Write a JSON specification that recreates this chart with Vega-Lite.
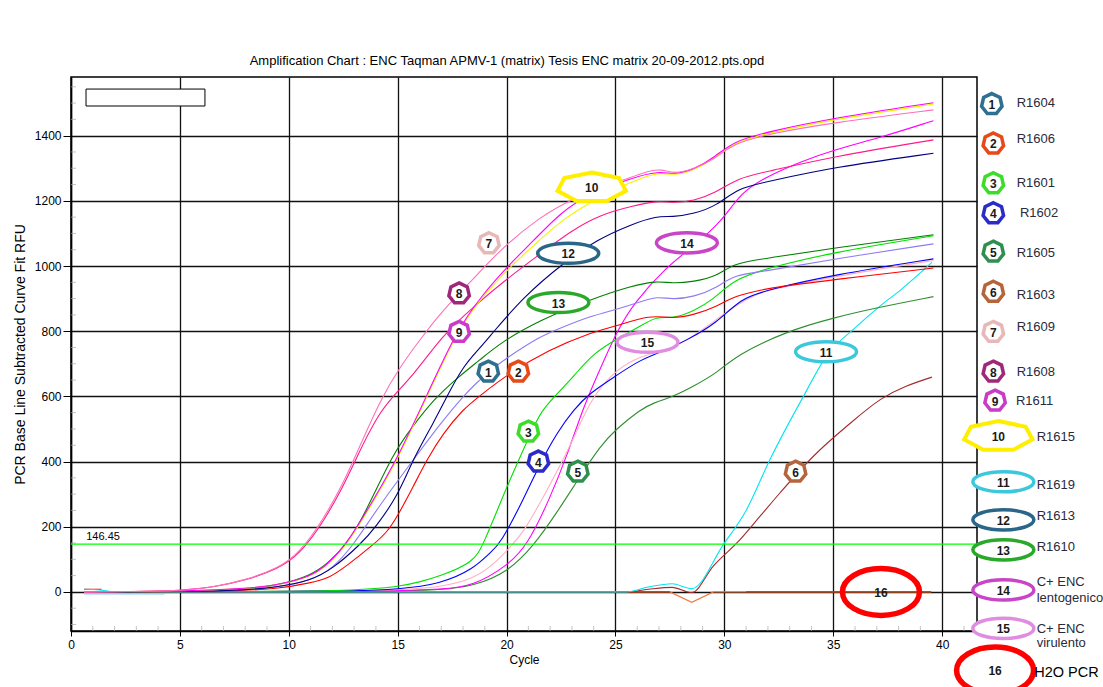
{
"$schema":"https://vega.github.io/schema/vega-lite/v6.json",
"width":906,"height":554,
"autosize":{"type":"none"},
"padding":{"left":71,"top":77,"right":126,"bottom":56},
"background":"white",
"config":{"view":{"stroke":"black","strokeWidth":1.5},"font":"Liberation Sans"},
"title":{"text":"Amplification Chart : ENC Taqman APMV-1 (matrix) Tesis ENC matrix 20-09-2012.pts.opd","fontSize":13,"fontWeight":"normal","font":"Liberation Sans","color":"black","offset":9,"dx":-17},
"datasets":{
"curves":[
{"s":"LB","x":0.6,"y":-6},{"s":"LB","x":4.3,"y":-6},
{"s":"RB","x":0.6,"y":8},{"s":"RB","x":1.4,"y":8},
{"s":"OR","x":0.6,"y":0},{"s":"OR","x":27.5,"y":0},{"s":"OR","x":28.5,"y":-32},{"s":"OR","x":29.5,"y":0},{"s":"OR","x":39.5,"y":0},
{"s":"DB1","x":25,"y":0},{"s":"DB1","x":27.5,"y":0},
{"s":"DB2","x":31,"y":0},{"s":"DB2","x":39.5,"y":0},
{"s":"BR","x":0.6,"y":0},{"s":"BR","x":25.5,"y":0},{"s":"BR","x":26.5,"y":8},{"s":"BR","x":27.6,"y":14},{"s":"BR","x":28.5,"y":-2},{"s":"BR","x":29.5,"y":80},{"s":"BR","x":30.73,"y":161},{"s":"BR","x":31.65,"y":233},{"s":"BR","x":32.57,"y":305},{"s":"BR","x":34.1,"y":417},{"s":"BR","x":35.63,"y":509},{"s":"BR","x":37.16,"y":590},{"s":"BR","x":39.53,"y":659},
{"s":"CY","x":0.6,"y":8},{"s":"CY","x":1.3,"y":6},{"s":"CY","x":2,"y":0},{"s":"CY","x":25.5,"y":0},{"s":"CY","x":26.5,"y":15},{"s":"CY","x":27.6,"y":25},{"s":"CY","x":28.5,"y":10},{"s":"CY","x":29.96,"y":146},{"s":"CY","x":31,"y":250},{"s":"CY","x":32.1,"y":407},{"s":"CY","x":33.63,"y":600},{"s":"CY","x":34.7,"y":725},{"s":"CY","x":36,"y":810},{"s":"CY","x":37.2,"y":880},{"s":"CY","x":38.1,"y":927},{"s":"CY","x":39.53,"y":1011},
{"s":"SG","x":0.6,"y":0},{"s":"SG","x":10,"y":1},{"s":"SG","x":15,"y":3},{"s":"SG","x":16.96,"y":6},{"s":"SG","x":18.48,"y":18},{"s":"SG","x":20.02,"y":59},{"s":"SG","x":21.24,"y":141},{"s":"SG","x":22.31,"y":243},{"s":"SG","x":23.38,"y":355},{"s":"SG","x":24.3,"y":447},{"s":"SG","x":25,"y":498},{"s":"SG","x":26.14,"y":560},{"s":"SG","x":26.75,"y":580},{"s":"SG","x":27.67,"y":600},{"s":"SG","x":28.58,"y":631},{"s":"SG","x":29.66,"y":672},{"s":"SG","x":30.6,"y":728},{"s":"SG","x":32.87,"y":800},{"s":"SG","x":35,"y":841},{"s":"SG","x":37,"y":872},{"s":"SG","x":39.6,"y":906},
{"s":"MG","x":0.6,"y":0},{"s":"MG","x":10,"y":1},{"s":"MG","x":15,"y":3},{"s":"MG","x":17,"y":8},{"s":"MG","x":18.48,"y":18},{"s":"MG","x":20.02,"y":80},{"s":"MG","x":20.94,"y":141},{"s":"MG","x":21.97,"y":284},{"s":"MG","x":22.77,"y":417},{"s":"MG","x":23.54,"y":570},{"s":"MG","x":24.3,"y":685},{"s":"MG","x":25.07,"y":800},{"s":"MG","x":25.83,"y":885},{"s":"MG","x":27.36,"y":999},{"s":"MG","x":28.58,"y":1060},{"s":"MG","x":29.96,"y":1142},{"s":"MG","x":30.73,"y":1224},{"s":"MG","x":31.96,"y":1275},{"s":"MG","x":33.5,"y":1320},{"s":"MG","x":35,"y":1356},{"s":"MG","x":37.3,"y":1397},{"s":"MG","x":39.6,"y":1446},
{"s":"LP","x":0.6,"y":0},{"s":"LP","x":10,"y":1},{"s":"LP","x":15,"y":5},{"s":"LP","x":17,"y":15},{"s":"LP","x":18.5,"y":40},{"s":"LP","x":19.5,"y":90},{"s":"LP","x":20.2,"y":140},{"s":"LP","x":20.78,"y":182},{"s":"LP","x":21.97,"y":325},{"s":"LP","x":23.08,"y":468},{"s":"LP","x":23.84,"y":590},{"s":"LP","x":25,"y":682},{"s":"LP","x":26.14,"y":723},{"s":"LP","x":27.4,"y":745},{"s":"LP","x":28.1,"y":764},{"s":"LP","x":29.66,"y":835},{"s":"LP","x":30.42,"y":876},{"s":"LP","x":31.6,"y":917},{"s":"LP","x":32,"y":925},{"s":"LP","x":35,"y":968},{"s":"LP","x":39.6,"y":1017},
{"s":"BL","x":0.6,"y":0},{"s":"BL","x":10,"y":1},{"s":"BL","x":13,"y":3},{"s":"BL","x":15,"y":8},{"s":"BL","x":16.96,"y":24},{"s":"BL","x":18.48,"y":70},{"s":"BL","x":19.25,"y":121},{"s":"BL","x":19.7,"y":146},{"s":"BL","x":20.78,"y":284},{"s":"BL","x":21.55,"y":396},{"s":"BL","x":22.31,"y":488},{"s":"BL","x":23.08,"y":560},{"s":"BL","x":23.84,"y":611},{"s":"BL","x":25,"y":662},{"s":"BL","x":26.14,"y":713},{"s":"BL","x":27.4,"y":744},{"s":"BL","x":28.2,"y":770},{"s":"BL","x":29.66,"y":825},{"s":"BL","x":30.73,"y":900},{"s":"BL","x":32,"y":927},{"s":"BL","x":35,"y":973},{"s":"BL","x":39.6,"y":1022},
{"s":"LM","x":0.6,"y":0},{"s":"LM","x":10,"y":1},{"s":"LM","x":13,"y":5},{"s":"LM","x":15,"y":15},{"s":"LM","x":16,"y":30},{"s":"LM","x":16.96,"y":49},{"s":"LM","x":18.48,"y":90},{"s":"LM","x":18.94,"y":146},{"s":"LM","x":20.02,"y":325},{"s":"LM","x":21,"y":470},{"s":"LM","x":21.55,"y":555},{"s":"LM","x":22.5,"y":620},{"s":"LM","x":23.08,"y":662},{"s":"LM","x":24,"y":733},{"s":"LM","x":25,"y":774},{"s":"LM","x":26.14,"y":815},{"s":"LM","x":26.9,"y":846},{"s":"LM","x":27.6,"y":838},{"s":"LM","x":28.6,"y":862},{"s":"LM","x":29.5,"y":897},{"s":"LM","x":30.42,"y":958},{"s":"LM","x":32,"y":994},{"s":"LM","x":35,"y":1042},{"s":"LM","x":39.6,"y":1093},
{"s":"R","x":0.6,"y":0},{"s":"R","x":5,"y":1},{"s":"R","x":8,"y":4},{"s":"R","x":9.5,"y":10},{"s":"R","x":11,"y":28},{"s":"R","x":11.8,"y":40},{"s":"R","x":12.67,"y":80},{"s":"R","x":13.9,"y":146},{"s":"R","x":14.5,"y":182},{"s":"R","x":15,"y":233},{"s":"R","x":15.73,"y":325},{"s":"R","x":16.35,"y":407},{"s":"R","x":17.1,"y":488},{"s":"R","x":18,"y":560},{"s":"R","x":18.7,"y":598},{"s":"R","x":20.02,"y":667},{"s":"R","x":21.97,"y":744},{"s":"R","x":23.84,"y":795},{"s":"R","x":25,"y":815},{"s":"R","x":26.6,"y":851},{"s":"R","x":27.6,"y":838},{"s":"R","x":28.6,"y":850},{"s":"R","x":29.66,"y":876},{"s":"R","x":30.42,"y":907},{"s":"R","x":32,"y":933},{"s":"R","x":35,"y":958},{"s":"R","x":39.6,"y":994},
{"s":"LV","x":0.6,"y":0},{"s":"LV","x":5,"y":1},{"s":"LV","x":8,"y":6},{"s":"LV","x":9.5,"y":14},{"s":"LV","x":11,"y":35},{"s":"LV","x":12,"y":70},{"s":"LV","x":13,"y":146},{"s":"LV","x":14,"y":250},{"s":"LV","x":15.6,"y":395},{"s":"LV","x":17,"y":520},{"s":"LV","x":18,"y":600},{"s":"LV","x":18.6,"y":640},{"s":"LV","x":19.2,"y":677},{"s":"LV","x":20,"y":718},{"s":"LV","x":21.55,"y":784},{"s":"LV","x":22.3,"y":805},{"s":"LV","x":23.84,"y":846},{"s":"LV","x":25,"y":866},{"s":"LV","x":26.14,"y":890},{"s":"LV","x":26.9,"y":907},{"s":"LV","x":27.6,"y":897},{"s":"LV","x":28.6,"y":905},{"s":"LV","x":29.66,"y":933},{"s":"LV","x":30.42,"y":973},{"s":"LV","x":32,"y":985},{"s":"LV","x":35,"y":1021},{"s":"LV","x":39.6,"y":1068},
{"s":"DG","x":0.6,"y":0},{"s":"DG","x":5,"y":1},{"s":"DG","x":8,"y":8},{"s":"DG","x":9.5,"y":20},{"s":"DG","x":11,"y":50},{"s":"DG","x":11.8,"y":88},{"s":"DG","x":12.67,"y":146},{"s":"DG","x":13.5,"y":240},{"s":"DG","x":14.8,"y":427},{"s":"DG","x":15.7,"y":509},{"s":"DG","x":16.65,"y":590},{"s":"DG","x":17.7,"y":655},{"s":"DG","x":18.8,"y":713},{"s":"DG","x":19.7,"y":764},{"s":"DG","x":21.55,"y":835},{"s":"DG","x":23.84,"y":897},{"s":"DG","x":25.68,"y":938},{"s":"DG","x":26.9,"y":955},{"s":"DG","x":27.6,"y":946},{"s":"DG","x":28.6,"y":952},{"s":"DG","x":29.66,"y":968},{"s":"DG","x":30.42,"y":1009},{"s":"DG","x":32,"y":1024},{"s":"DG","x":35,"y":1055},{"s":"DG","x":39.6,"y":1096},
{"s":"N","x":0.6,"y":0},{"s":"N","x":5,"y":1},{"s":"N","x":8,"y":5},{"s":"N","x":9.5,"y":15},{"s":"N","x":11,"y":35},{"s":"N","x":12,"y":70},{"s":"N","x":13.3,"y":146},{"s":"N","x":14,"y":200},{"s":"N","x":15,"y":294},{"s":"N","x":15.7,"y":407},{"s":"N","x":16.65,"y":519},{"s":"N","x":17.26,"y":600},{"s":"N","x":18,"y":692},{"s":"N","x":18.8,"y":750},{"s":"N","x":19.3,"y":790},{"s":"N","x":20.8,"y":907},{"s":"N","x":22.6,"y":1009},{"s":"N","x":24.15,"y":1081},{"s":"N","x":25.7,"y":1127},{"s":"N","x":26.9,"y":1154},{"s":"N","x":27.6,"y":1150},{"s":"N","x":28.6,"y":1160},{"s":"N","x":29.66,"y":1185},{"s":"N","x":30.6,"y":1239},{"s":"N","x":32,"y":1259},{"s":"N","x":35,"y":1303},{"s":"N","x":39.6,"y":1346},
{"s":"B","x":0.6,"y":0},{"s":"B","x":3,"y":1},{"s":"B","x":5,"y":4},{"s":"B","x":6.5,"y":14},{"s":"B","x":8,"y":35},{"s":"B","x":9.5,"y":70},{"s":"B","x":10.5,"y":115},{"s":"B","x":11.6,"y":215},{"s":"B","x":12.5,"y":325},{"s":"B","x":13,"y":395},{"s":"B","x":14.2,"y":565},{"s":"B","x":15.6,"y":652},{"s":"B","x":17,"y":784},{"s":"B","x":18.5,"y":876},{"s":"B","x":20,"y":960},{"s":"B","x":21.5,"y":1035},{"s":"B","x":23,"y":1110},{"s":"B","x":24.3,"y":1157},{"s":"B","x":25.7,"y":1183},{"s":"B","x":27,"y":1201},{"s":"B","x":27.6,"y":1193},{"s":"B","x":28.6,"y":1200},{"s":"B","x":29.6,"y":1224},{"s":"B","x":30.6,"y":1270},{"s":"B","x":32,"y":1290},{"s":"B","x":35,"y":1336},{"s":"B","x":39.6,"y":1387},
{"s":"Y","x":0.6,"y":0},{"s":"Y","x":5,"y":2},{"s":"Y","x":8,"y":10},{"s":"Y","x":9.5,"y":20},{"s":"Y","x":11,"y":45},{"s":"Y","x":11.8,"y":82},{"s":"Y","x":12.7,"y":146},{"s":"Y","x":14,"y":290},{"s":"Y","x":15,"y":407},{"s":"Y","x":16.35,"y":600},{"s":"Y","x":17.7,"y":795},{"s":"Y","x":18.8,"y":900},{"s":"Y","x":20.2,"y":1000},{"s":"Y","x":21.2,"y":1060},{"s":"Y","x":22.5,"y":1140},{"s":"Y","x":23.8,"y":1193},{"s":"Y","x":24.9,"y":1234},{"s":"Y","x":26.4,"y":1276},{"s":"Y","x":27.1,"y":1286},{"s":"Y","x":27.7,"y":1278},{"s":"Y","x":28.6,"y":1293},{"s":"Y","x":29.6,"y":1333},{"s":"Y","x":30.4,"y":1378},{"s":"Y","x":32,"y":1408},{"s":"Y","x":35,"y":1450},{"s":"Y","x":39.6,"y":1497},
{"s":"M","x":0.6,"y":0},{"s":"M","x":5,"y":2},{"s":"M","x":8,"y":10},{"s":"M","x":9.5,"y":21},{"s":"M","x":11,"y":47},{"s":"M","x":11.8,"y":85},{"s":"M","x":12.7,"y":150},{"s":"M","x":14,"y":295},{"s":"M","x":15,"y":412},{"s":"M","x":16.35,"y":605},{"s":"M","x":17.7,"y":800},{"s":"M","x":18.8,"y":905},{"s":"M","x":20.2,"y":1010},{"s":"M","x":21.2,"y":1075},{"s":"M","x":22.5,"y":1165},{"s":"M","x":23.7,"y":1218},{"s":"M","x":25.7,"y":1270},{"s":"M","x":27,"y":1292},{"s":"M","x":27.7,"y":1280},{"s":"M","x":28.6,"y":1296},{"s":"M","x":29.6,"y":1336},{"s":"M","x":30.4,"y":1382},{"s":"M","x":32,"y":1412},{"s":"M","x":35,"y":1454},{"s":"M","x":39.6,"y":1501},
{"s":"A","x":0.6,"y":0},{"s":"A","x":3,"y":1},{"s":"A","x":5,"y":4},{"s":"A","x":6.5,"y":14},{"s":"A","x":8,"y":36},{"s":"A","x":9.5,"y":72},{"s":"A","x":10.5,"y":120},{"s":"A","x":11.6,"y":223},{"s":"A","x":12.5,"y":335},{"s":"A","x":13,"y":407},{"s":"A","x":14.2,"y":590},{"s":"A","x":15.1,"y":690},{"s":"A","x":16.2,"y":790},{"s":"A","x":17.1,"y":866},{"s":"A","x":18.3,"y":948},{"s":"A","x":19.7,"y":1050},{"s":"A","x":21.5,"y":1150},{"s":"A","x":23.2,"y":1213},{"s":"A","x":25.4,"y":1264},{"s":"A","x":26.5,"y":1292},{"s":"A","x":27.1,"y":1298},{"s":"A","x":27.7,"y":1282},{"s":"A","x":28.6,"y":1298},{"s":"A","x":29.6,"y":1330},{"s":"A","x":30.4,"y":1375},{"s":"A","x":32,"y":1405},{"s":"A","x":35,"y":1440},{"s":"A","x":39.6,"y":1479}
],
"yminor":[{"v":-100},{"v":-50},{"v":50},{"v":100},{"v":150},{"v":250},{"v":300},{"v":350},{"v":450},{"v":500},{"v":550},{"v":650},{"v":700},{"v":750},{"v":850},{"v":900},{"v":950},{"v":1050},{"v":1100},{"v":1150},{"v":1250},{"v":1300},{"v":1350},{"v":1450},{"v":1500},{"v":1550}],
"xminor":[{"c":1},{"c":2},{"c":3},{"c":4},{"c":6},{"c":7},{"c":8},{"c":9},{"c":11},{"c":12},{"c":13},{"c":14},{"c":16},{"c":17},{"c":18},{"c":19},{"c":21},{"c":22},{"c":23},{"c":24},{"c":26},{"c":27},{"c":28},{"c":29},{"c":31},{"c":32},{"c":33},{"c":34},{"c":36},{"c":37},{"c":38},{"c":39},{"c":41}],
"marks":[
{"id":"1","sh":"h","x":19.16,"y":676},{"id":"2","sh":"h","x":20.54,"y":676},{"id":"3","sh":"h","x":21.0,"y":492},{"id":"4","sh":"h","x":21.46,"y":400},{"id":"5","sh":"h","x":23.27,"y":369},{"id":"6","sh":"h","x":33.27,"y":369},{"id":"7","sh":"h","x":19.19,"y":1070},{"id":"8","sh":"h","x":17.82,"y":916},{"id":"9","sh":"h","x":17.82,"y":798},
{"id":"10","sh":"h10","x":23.91,"y":1241},
{"id":"11","sh":"e","x":34.67,"y":737},{"id":"12","sh":"e","x":22.83,"y":1039},{"id":"13","sh":"e","x":22.38,"y":888},{"id":"14","sh":"e","x":28.28,"y":1071},{"id":"15","sh":"e","x":26.47,"y":766},
{"id":"16","sh":"e16","x":37.19,"y":0},
{"id":"1","sh":"h","x":42.28,"y":1497},{"id":"2","sh":"h","x":42.35,"y":1376},{"id":"3","sh":"h","x":42.35,"y":1254},{"id":"4","sh":"h","x":42.35,"y":1162},{"id":"5","sh":"h","x":42.35,"y":1044},{"id":"6","sh":"h","x":42.35,"y":921},{"id":"7","sh":"h","x":42.35,"y":798},{"id":"8","sh":"h","x":42.35,"y":676},{"id":"9","sh":"h","x":42.43,"y":587},
{"id":"10","sh":"h10","x":42.58,"y":478},
{"id":"11","sh":"e","x":42.81,"y":338},{"id":"12","sh":"e","x":42.81,"y":221},{"id":"13","sh":"e","x":42.81,"y":129},{"id":"14","sh":"e","x":42.81,"y":6},{"id":"15","sh":"e","x":42.81,"y":-112},
{"id":"16","sh":"e16","x":42.43,"y":-241}
],
"labels":[
{"t":"R1604","x":43.42,"y":1499},{"t":"R1606","x":43.42,"y":1389},{"t":"R1601","x":43.42,"y":1256},{"t":"R1602","x":43.57,"y":1164},{"t":"R1605","x":43.42,"y":1041},{"t":"R1603","x":43.42,"y":911},{"t":"R1609","x":43.42,"y":812},{"t":"R1608","x":43.42,"y":676},{"t":"R1611","x":43.39,"y":587},{"t":"R1615","x":44.34,"y":474},{"t":"R1619","x":44.34,"y":328},{"t":"R1613","x":44.34,"y":233},{"t":"R1610","x":44.34,"y":139},{"t":"C+  ENC","x":44.34,"y":31},{"t":"lentogenico","x":44.34,"y":-20},{"t":"C+  ENC","x":44.34,"y":-115},{"t":"virulento","x":44.34,"y":-157}
]
},
"layer":[
{"data":{"name":"curves"},
 "transform":[{"filter":"indexof(['LB','RB','OR','DB1','DB2'], datum.s) >= 0"}],
 "mark":{"type":"line","strokeWidth":1.1,"interpolate":"linear"},
 "encoding":{
  "x":{"field":"x","type":"quantitative","scale":{"domain":[0,41.6],"nice":false,"zero":false},
   "axis":{"title":"Cycle","values":[0,5,10,15,20,25,30,35,40],"format":"d",
    "grid":true,"gridColor":"#111111","gridWidth":1.3,
    "tickSize":5,"tickColor":"#000000",
    "domainColor":"#000000","domainWidth":1.5,"labelFontSize":12,"labelColor":"#000000","labelFont":"Liberation Sans","labelPadding":3,"labelFlush":false,"labelOverlap":false,
    "titleFontSize":12,"titleFontWeight":"normal","titleColor":"#000000","titleFont":"Liberation Sans","titlePadding":4}},
  "y":{"field":"y","type":"quantitative","scale":{"domain":[-120,1580],"nice":false,"zero":false},
   "axis":{"title":"PCR Base Line Subtracted Curve Fit RFU","values":[0,200,400,600,800,1000,1200,1400],"format":"d",
    "grid":true,"gridWidth":1.3,"gridColor":"#111111",
    "tickSize":8,"tickColor":"#000000",
    "domainColor":"#000000","domainWidth":1.5,"labelFontSize":12,"labelColor":"#000000","labelFont":"Liberation Sans","labelPadding":2,"labelOverlap":false,
    "titleFontSize":14,"titleFontWeight":"normal","titleColor":"#000000","titleFont":"Liberation Sans","titlePadding":7}},
  "color":{"field":"s","type":"nominal","legend":null,
   "scale":{"domain":["LB","RB","OR","DB1","DB2","BR","CY","SG","MG","LP","BL","LM","R","LV","DG","N","B","Y","M","A"],
    "range":["#87cefa","#ff0000","#f07840","#a33a12","#a33a12","#a52a2a","#00e5f0","#2f8f2f","#ff00ff","#ffb0c0","#0000ff","#00e000","#ff0000","#8c7cf4","#008000","#000080","#ff1a8c","#f2f200","#ff00ff","#ff70b8"]}}
 }},
{"data":{"name":"curves"},
 "transform":[{"filter":"datum.s === 'BR' || datum.s === 'CY'"}],
 "mark":{"type":"line","strokeWidth":1.1,"interpolate":"monotone"},
 "encoding":{"x":{"field":"x","type":"quantitative"},"y":{"field":"y","type":"quantitative"},"color":{"field":"s","type":"nominal","legend":null}}},
{"data":{"name":"curves"},
 "transform":[{"filter":"indexof(['LB','RB','OR','DB1','DB2','BR','CY'], datum.s) < 0"}],
 "mark":{"type":"line","strokeWidth":1.1,"interpolate":"basis"},
 "encoding":{"x":{"field":"x","type":"quantitative"},"y":{"field":"y","type":"quantitative"},"color":{"field":"s","type":"nominal","legend":null}}},
{"data":{"name":"yminor"},
 "mark":{"type":"tick","orient":"horizontal","size":10,"thickness":1,"color":"#aaaaaa","clip":true},
 "encoding":{"x":{"datum":0,"type":"quantitative"},"y":{"field":"v","type":"quantitative"}}},
{"data":{"name":"xminor"},
 "mark":{"type":"tick","orient":"vertical","size":10,"thickness":1,"color":"#aaaaaa","clip":true},
 "encoding":{"x":{"field":"c","type":"quantitative"},"y":{"datum":-120,"type":"quantitative"}}},
{"data":{"values":[{"x":0,"x2":41.6,"y":146.45}]},
 "mark":{"type":"rule","color":"#00ff00","strokeWidth":1.2},
 "encoding":{"x":{"field":"x","type":"quantitative"},"x2":{"field":"x2"},"y":{"field":"y","type":"quantitative"}}},
{"data":{"values":[{"t":"146.45","x":0.7,"y":158}]},
 "mark":{"type":"text","align":"left","baseline":"alphabetic","fontSize":11,"color":"#000000","font":"Liberation Sans"},
 "encoding":{"x":{"field":"x","type":"quantitative"},"y":{"field":"y","type":"quantitative"},"text":{"field":"t"}}},
{"data":{"values":[{"x":0.69,"x2":6.15,"y":1491,"y2":1543}]},
 "mark":{"type":"rect","fill":"white","stroke":"black","strokeWidth":1},
 "encoding":{"x":{"field":"x","type":"quantitative"},"x2":{"field":"x2"},"y":{"field":"y","type":"quantitative"},"y2":{"field":"y2"}}},
{"data":{"name":"marks"},"transform":[{"filter":"datum.sh === 'h'"}],
 "mark":{"type":"point","shape":"M0,-1L0.782,-0.623L0.975,0.223L0.434,0.901L-0.434,0.901L-0.975,0.223L-0.782,-0.623Z","size":440,"fill":"white","fillOpacity":1,"strokeWidth":3.5,"opacity":1},
 "encoding":{"x":{"field":"x","type":"quantitative"},"y":{"field":"y","type":"quantitative"},
  "stroke":{"field":"id","type":"nominal","legend":null,"scale":{"domain":["1","2","3","4","5","6","7","8","9","10","11","12","13","14","15","16"],"range":["#2f6f8f","#e64a19","#3ddc2a","#2b2bc8","#2f8f4f","#b5653c","#e8b8b8","#a0287a","#c83cc8","#ffee00","#3cc8dc","#2a6688","#2aa82a","#c845c8","#e08ce0","#ff0000"]}}}},
{"data":{"name":"marks"},"transform":[{"filter":"datum.sh === 'h10'"}],
 "mark":{"type":"point","shape":"M0,-0.43L0.782,-0.268L0.975,0.096L0.434,0.387L-0.434,0.387L-0.975,0.096L-0.782,-0.268Z","size":4900,"fill":"white","fillOpacity":1,"strokeWidth":4,"opacity":1},
 "encoding":{"x":{"field":"x","type":"quantitative"},"y":{"field":"y","type":"quantitative"},
  "stroke":{"field":"id","type":"nominal","legend":null}}},
{"data":{"name":"marks"},"transform":[{"filter":"datum.sh === 'e'"}],
 "mark":{"type":"point","shape":"M1,0C1,0.182 0.552,0.33 0,0.33C-0.552,0.33 -1,0.182 -1,0C-1,-0.182 -0.552,-0.33 0,-0.33C0.552,-0.33 1,-0.182 1,0Z","size":3721,"fill":"white","fillOpacity":1,"strokeWidth":3.5,"opacity":1},
 "encoding":{"x":{"field":"x","type":"quantitative"},"y":{"field":"y","type":"quantitative"},
  "stroke":{"field":"id","type":"nominal","legend":null}}},
{"data":{"name":"marks"},"transform":[{"filter":"datum.sh === 'e16'"}],
 "mark":{"type":"point","shape":"M1,0C1,0.337 0.552,0.61 0,0.61C-0.552,0.61 -1,0.337 -1,0C-1,-0.337 -0.552,-0.61 0,-0.61C0.552,-0.61 1,-0.337 1,0Z","size":5929,"fill":"transparent","strokeWidth":5.5,"opacity":1},
 "encoding":{"x":{"field":"x","type":"quantitative"},"y":{"field":"y","type":"quantitative"},
  "stroke":{"field":"id","type":"nominal","legend":null}}},
{"data":{"name":"marks"},
 "mark":{"type":"text","align":"center","baseline":"middle","fontSize":12,"fontWeight":"bold","color":"#1a1a1a","font":"Liberation Sans","dy":1},
 "encoding":{"x":{"field":"x","type":"quantitative"},"y":{"field":"y","type":"quantitative"},"text":{"field":"id"}}},
{"data":{"name":"labels"},
 "mark":{"type":"text","align":"left","baseline":"middle","fontSize":13,"color":"#2a2a3a","font":"Liberation Sans"},
 "encoding":{"x":{"field":"x","type":"quantitative"},"y":{"field":"y","type":"quantitative"},"text":{"field":"t"}}},
{"data":{"values":[{"t":"H2O PCR","x":44.23,"y":-250}]},
 "mark":{"type":"text","align":"left","baseline":"middle","fontSize":14.5,"color":"#000000","font":"Liberation Sans"},
 "encoding":{"x":{"field":"x","type":"quantitative"},"y":{"field":"y","type":"quantitative"},"text":{"field":"t"}}}
]
}
